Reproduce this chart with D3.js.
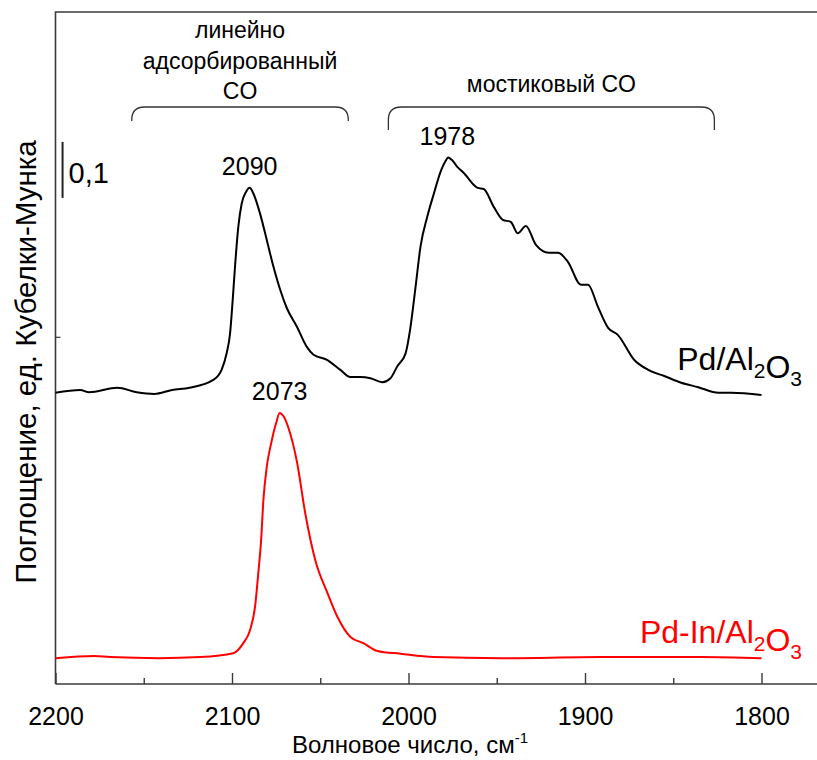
<!DOCTYPE html>
<html><head><meta charset="utf-8">
<script src="https://cdn.jsdelivr.net/npm/d3@7"></script>
<style>
html,body{margin:0;padding:0;background:#fff;}
svg text{font-family:"Liberation Sans",Arial,sans-serif;}
</style></head>
<body><svg id="c" width="817" height="760"></svg>
<script>
// ---- data (wavenumber, Kubelka-Munk units, offset stacked) ----
const pdWave = [2200,2186,2181,2165,2154,2144,2134,2124,2110.6,2105.9,2103.0,2101.1,2099.6,2098.3,2096.4,2094.5,2092.0,2090,2087.9,2084.1,2080.3,2076.5,2072.7,2068.9,2063.2,2057.6,2053.8,2046.2,2038.6,2033,2027.3,2021.6,2014.8,2010.2,2006.4,2001.7,1998.9,1996.0,1993.2,1989.4,1985.6,1981.8,1979.0,1977.5,1975.5,1972.2,1968.8,1960.8,1957.4,1951.7,1946.6,1942,1938.1,1933.5,1927.8,1920.5,1915.3,1909.7,1902.3,1898.3,1892.6,1886.9,1881.3,1872.2,1864.2,1855.1,1845.5,1835.8,1824.4,1817,1800];
const pdValue = [0.520,0.525,0.521,0.529,0.521,0.518,0.525,0.529,0.543,0.561,0.591,0.626,0.686,0.745,0.817,0.858,0.879,0.886,0.876,0.840,0.793,0.745,0.704,0.671,0.638,0.602,0.588,0.579,0.561,0.548,0.548,0.546,0.539,0.546,0.567,0.590,0.637,0.709,0.781,0.834,0.876,0.915,0.934,0.940,0.936,0.923,0.913,0.886,0.884,0.852,0.829,0.825,0.805,0.818,0.784,0.770,0.770,0.754,0.713,0.713,0.673,0.636,0.623,0.579,0.561,0.550,0.538,0.530,0.520,0.520,0.516];
const pdInWave = [2200,2178,2169,2141,2118,2099.3,2093.6,2089.8,2086.9,2085.1,2083.5,2082.2,2080.3,2077.8,2075.0,2073,2070.8,2068.2,2063.1,2058.5,2052.8,2046,2040.3,2032.9,2025.6,2017.6,2004.5,1985.8,1947.7,1890.9,1834.1,1800];
const pdInValue = [0.046,0.050,0.048,0.046,0.048,0.055,0.073,0.096,0.139,0.198,0.257,0.329,0.388,0.430,0.466,0.484,0.478,0.459,0.395,0.305,0.221,0.163,0.120,0.084,0.073,0.059,0.054,0.048,0.046,0.048,0.048,0.046];
const xTicksMajor = [2200,2100,2000,1900,1800];
const xTicksMinor = [2150,2050,1950,1850];
const peakLabels = [
  {text:"2090", wave:2090, value:0.886},
  {text:"1978", wave:1978, value:0.940},
  {text:"2073", wave:2073, value:0.484}
];
const braceRanges = [
  {from:2156.8, to:2034.1, lines:["линейно","адсорбированный","CO"]},
  {from:2011.4, to:1826.7, lines:["мостиковый CO"]}
];
const scaleBar = [0.868, 0.968];

// ---- layout ----
const svg = d3.select("#c");
const x = d3.scaleLinear().domain([2200,1800]).range([55.5,761.5]);
const y = d3.scaleLinear().domain([0,1.2]).range([684,12]);
const xRight = 817, yTop = 12, yBot = 684, xLeft = 55.5;
const frameColor = "#3a3a3a";

// frame lines
svg.append("path").attr("d",`M${xLeft},${yBot}V${yTop}H${xRight}`)
  .attr("fill","none").attr("stroke",frameColor).attr("stroke-width",1.6);

// x axis
const gx = svg.append("g").attr("transform",`translate(0,${yBot})`);
gx.call(d3.axisBottom(x).tickValues(xTicksMajor).tickSizeInner(-11).tickSizeOuter(0).tickPadding(23).tickFormat(d3.format("d")));
gx.select(".domain").remove();
gx.selectAll(".tick line").attr("stroke",frameColor).attr("stroke-width",1.4);
gx.selectAll(".tick text").attr("font-size",25).attr("fill","#000").attr("font-family","Liberation Sans, Arial, sans-serif");
const gxm = svg.append("g").attr("transform",`translate(0,${yBot})`);
gxm.call(d3.axisBottom(x).tickValues(xTicksMinor).tickSizeInner(-6).tickSizeOuter(0).tickFormat(""));
gxm.select(".domain").remove();
gxm.selectAll(".tick line").attr("stroke",frameColor).attr("stroke-width",1.4);
svg.append("line").attr("x1",xLeft).attr("x2",xRight).attr("y1",yBot).attr("y2",yBot)
  .attr("stroke",frameColor).attr("stroke-width",1.6);

// y axis single tick
const gy = svg.append("g").attr("transform",`translate(${xLeft},0)`);
gy.call(d3.axisLeft(y).tickValues([0.62]).tickSizeInner(-5).tickSizeOuter(0).tickFormat(""));
gy.select(".domain").remove();
gy.selectAll(".tick line").attr("stroke",frameColor).attr("stroke-width",1.2);

// axis titles
const xt = svg.append("text").attr("x",410).attr("y",753).attr("text-anchor","middle")
  .attr("font-size",24).attr("fill","#000");
xt.append("tspan").text("Волновое число, см");
xt.append("tspan").attr("dy",-10).attr("font-size",15).text("-1");
svg.append("text").attr("transform","translate(36,362) rotate(-90)").attr("text-anchor","middle")
  .attr("font-size",29.5).attr("fill","#000").text("Поглощение, ед. Кубелки-Мунка");

// curves
const line = d3.line().x(d=>x(d[0])).y(d=>y(d[1])).curve(d3.curveMonotoneX);
svg.append("path").datum(d3.zip(pdWave,pdValue)).attr("d",line)
  .attr("fill","none").attr("stroke","#000").attr("stroke-width",2);
svg.append("path").datum(d3.zip(pdInWave,pdInValue)).attr("d",line)
  .attr("fill","none").attr("stroke","#ff0000").attr("stroke-width",2);

// peak labels
svg.selectAll(".pk").data(peakLabels).join("text").attr("class","pk")
  .attr("x",d=>x(d.wave)).attr("y",d=>y(d.value)-13).attr("text-anchor","middle")
  .attr("font-size",25).attr("fill","#000").text(d=>d.text);

// braces
braceRanges.forEach((b,i)=>{
  const x1 = x(b.from), x2 = x(b.to), top = 107, end = i===0?121:130, r = 13;
  svg.append("path").attr("d",`M${x1},${end}V${top+r}Q${x1},${top} ${x1+r},${top}H${x2-r}Q${x2},${top} ${x2},${top+r}V${end}`)
    .attr("fill","none").attr("stroke","#333").attr("stroke-width",1.3);
  const cx = (x1+x2)/2;
  const n = b.lines.length;
  const base = i===0?99:92;
  b.lines.forEach((t,j)=>{
    svg.append("text").attr("x",cx).attr("y",base-(n-1-j)*30.5).attr("text-anchor","middle")
      .attr("font-size",23).attr("fill","#000").text(t);
  });
});

// scale bar
svg.append("line").attr("x1",x(2196)).attr("x2",x(2196)).attr("y1",y(scaleBar[0])).attr("y2",y(scaleBar[1]))
  .attr("stroke","#222").attr("stroke-width",2);
svg.append("text").attr("x",x(2196)+6).attr("y",183).attr("font-size",29).attr("fill","#000").text("0,1");

// series labels
function chem(el, parts){
  parts.forEach(p=>{
    if(p.sub){ el.append("tspan").attr("dy",8).attr("font-size",21).text(p.t);
      el.append("tspan").attr("dy",-8).text(""); }
    else el.append("tspan").text(p.t);
  });
}
const l1 = svg.append("text").attr("x",802).attr("y",370).attr("text-anchor","end").attr("font-size",32).attr("fill","#000");
chem(l1,[{t:"Pd/Al"},{t:"2",sub:true},{t:"O"},{t:"3",sub:true}]);
const l2 = svg.append("text").attr("x",802).attr("y",643).attr("text-anchor","end").attr("font-size",32).attr("fill","#ff0000");
chem(l2,[{t:"Pd-In/Al"},{t:"2",sub:true},{t:"O"},{t:"3",sub:true}]);
</script></body></html>
